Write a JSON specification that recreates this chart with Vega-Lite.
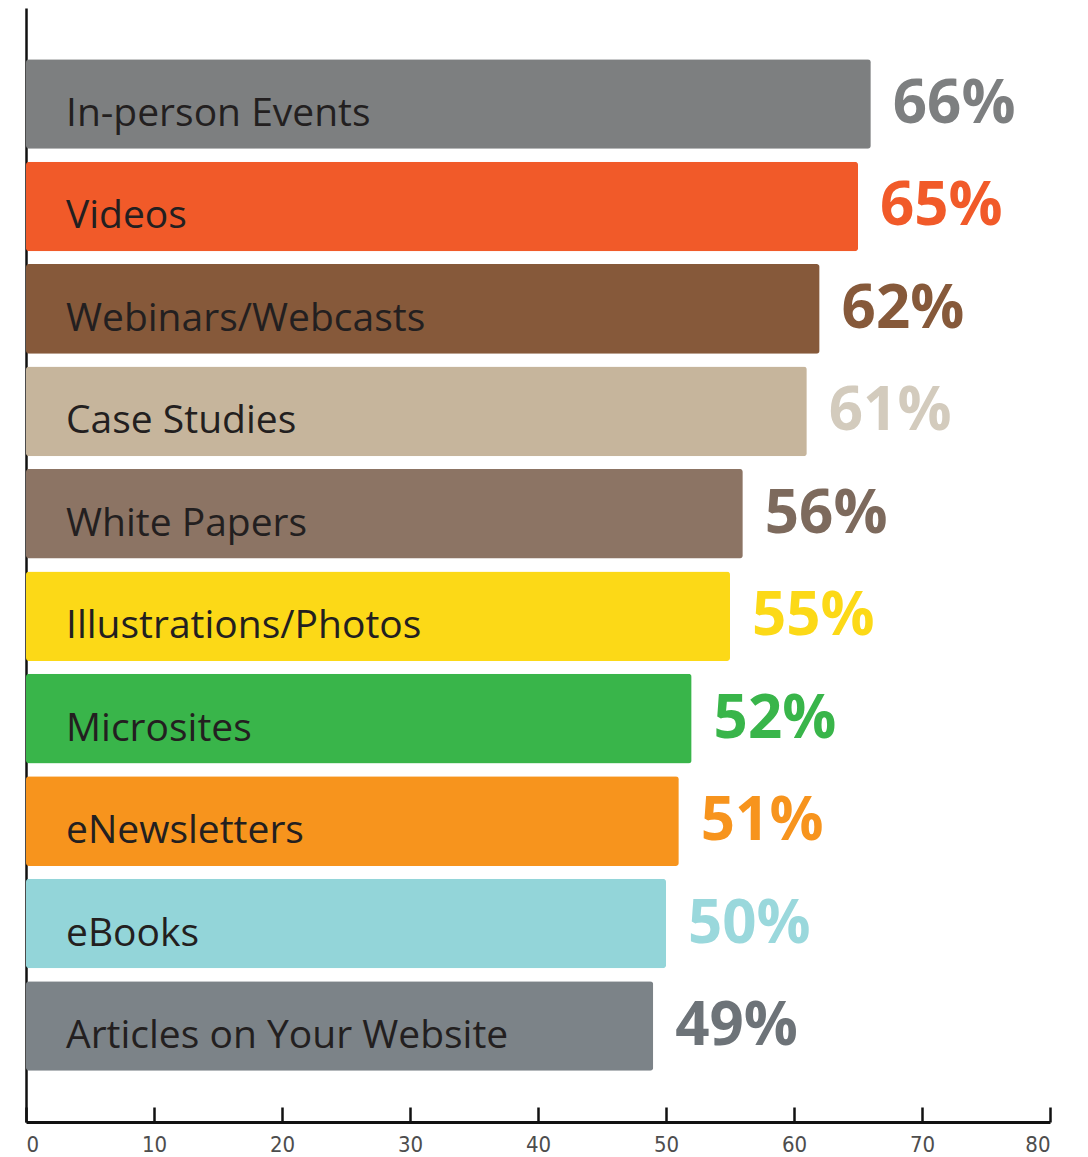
{
  "$schema": "https://vega.github.io/schema/vega-lite/v6.json",
  "width": 1024,
  "height": 1114,
  "padding": {"left": 24, "top": 8, "right": 10, "bottom": 5},
  "background": "white",
  "config": {"view": {"stroke": null}},
  "data": {
    "values": [
      {"type": "In-person Events", "pct": 66, "label": "66%"},
      {"type": "Videos", "pct": 65, "label": "65%"},
      {"type": "Webinars/Webcasts", "pct": 62, "label": "62%"},
      {"type": "Case Studies", "pct": 61, "label": "61%"},
      {"type": "White Papers", "pct": 56, "label": "56%"},
      {"type": "Illustrations/Photos", "pct": 55, "label": "55%"},
      {"type": "Microsites", "pct": 52, "label": "52%"},
      {"type": "eNewsletters", "pct": 51, "label": "51%"},
      {"type": "eBooks", "pct": 50, "label": "50%"},
      {"type": "Articles on Your Website", "pct": 49, "label": "49%"}
    ]
  },
  "encoding": {
    "y": {
      "field": "type", "type": "nominal", "sort": null,
      "scale": {"paddingInner": 0.125, "paddingOuter": 0.5},
      "axis": {"labels": false, "ticks": false, "title": null, "domainColor": "#111", "domainWidth": 2.5, "grid": false}
    }
  },
  "layer": [
    {
      "mark": {"type": "bar", "cornerRadius": 3},
      "encoding": {
        "x": {
          "field": "pct", "type": "quantitative",
          "scale": {"domain": [0, 80], "nice": false},
          "axis": {
            "values": [0, 10, 20, 30, 40, 50, 60, 70, 80],
            "title": null, "grid": false,
            "domainColor": "#111", "domainWidth": 3,
            "tickColor": "#111", "tickWidth": 2.5, "tickSize": -15,
            "labelFont": "DejaVu Sans Condensed", "labelFontSize": 22, "labelColor": "#4d4d4d",
            "labelPadding": 27
          }
        },
        "color": {
          "field": "type", "type": "nominal", "legend": null,
          "scale": {
            "domain": ["In-person Events", "Videos", "Webinars/Webcasts", "Case Studies", "White Papers", "Illustrations/Photos", "Microsites", "eNewsletters", "eBooks", "Articles on Your Website"],
            "range": ["#7d7f80", "#f15a29", "#86593a", "#c6b59c", "#8c7464", "#fcd917", "#39b54a", "#f7941d", "#93d5d9", "#7c8388"]
          }
        }
      }
    },
    {
      "mark": {"type": "text", "align": "left", "baseline": "middle", "dx": 40, "dy": 10, "font": "Open Sans", "fontSize": 39, "letterSpacing": -1, "color": "#231f20"},
      "encoding": {
        "x": {"datum": 0, "type": "quantitative"},
        "text": {"field": "type"}
      }
    },
    {
      "mark": {"type": "text", "align": "left", "baseline": "middle", "dx": 22, "dy": 1, "font": "Open Sans", "fontSize": 60, "fontWeight": "bold", "letterSpacing": -1},
      "encoding": {
        "x": {"field": "pct", "type": "quantitative"},
        "text": {"field": "label"},
        "color": {
          "field": "type", "type": "nominal", "legend": null,
          "scale": {
            "domain": ["In-person Events", "Videos", "Webinars/Webcasts", "Case Studies", "White Papers", "Illustrations/Photos", "Microsites", "eNewsletters", "eBooks", "Articles on Your Website"],
            "range": ["#7d7f80", "#f15a29", "#86593a", "#d3cbbd", "#7d6a5d", "#fcd917", "#39b54a", "#f7941d", "#9ad8dc", "#6d7378"]
          }
        }
      }
    }
  ],
  "resolve": {"scale": {"color": "independent"}}
}
